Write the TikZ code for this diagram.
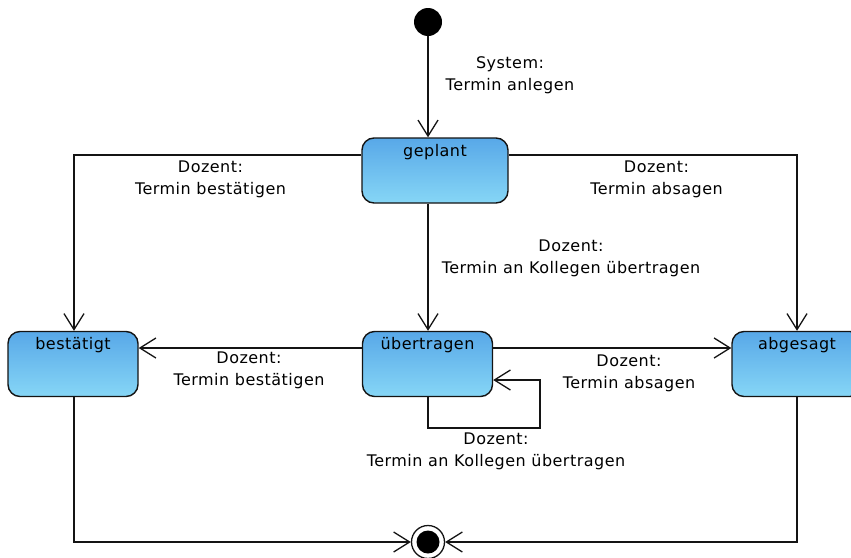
\documentclass[tikz,border=0pt]{standalone}
\usepackage{fontspec}
\setmainfont{DejaVu Sans}[LetterSpace=3]
\usetikzlibrary{arrows.meta}

\definecolor{statetop}{RGB}{88,168,232}
\definecolor{statebot}{RGB}{134,214,246}
\definecolor{edgeink}{RGB}{20,20,20}

\tikzset{
  state/.style={draw=edgeink, line width=1.4pt, rounded corners=12pt,
    top color=statetop, bottom color=statebot,
    minimum width=130pt, inner xsep=2pt, inner ysep=5pt,
    text height=13pt, text depth=42pt, anchor=center},
  tr/.style={draw=edgeink, line width=1.3pt,
    -{Straight Barb[length=16pt,width=20pt,line width=1.3pt]}},
  lbl/.style={align=center, inner sep=0pt},
  every node/.style={font=\fontsize{16pt}{22.5pt}\selectfont}
}

\begin{document}
\begin{tikzpicture}[x=1pt, y=-1pt]
  \useasboundingbox (0,0) rectangle (851,557);

  % start and end points
  \node[circle, fill=black, minimum size=28pt, inner sep=0pt] (init) at (428,22) {};
  \node[circle, draw=edgeink, fill=white, line width=1.3pt, minimum size=33pt, inner sep=0pt] (final) at (428,542) {};
  \fill[black] (final.center) circle (11.5pt);

  % states
  \node[state, minimum width=146pt] (geplant) at (435,170.5) {geplant};
  \node[state] (uebertragen) at (427.5,364) {übertragen};
  \node[state] (bestaetigt) at (73,364) {bestätigt};
  \node[state] (abgesagt) at (797,364) {abgesagt};

  % transitions
  \draw[tr] (init.south) -- (init.south |- geplant.north);
  \draw[tr] ([yshift=15.5pt]geplant.west) -| ([xshift=1pt]bestaetigt.north);
  \draw[tr] ([yshift=15.5pt]geplant.east) -| (abgesagt.north);
  \draw[tr] (init.south |- geplant.south) -- (init.south |- uebertragen.north);
  \draw[tr] ([yshift=16pt]uebertragen.west) -- ([yshift=16pt]bestaetigt.east);
  \draw[tr] ([yshift=16pt]uebertragen.east) -- ([yshift=16pt]abgesagt.west);
  \coordinate (loopc) at (540,428);
  \draw[tr] (init.south |- uebertragen.south) |- (loopc) |- ([yshift=-16pt]uebertragen.east);
  \draw[tr] ([xshift=1pt]bestaetigt.south) |- (final.west);
  \draw[tr] (abgesagt.south) |- (final.east);

  % transition labels
  \node[lbl] (l1) at (510,75) {System:\\Termin anlegen};
  \node[lbl] (l2) at (210.5,179.5) {Dozent:\\Termin bestätigen};
  \node[lbl] (l3) at (656.5,179.5) {Dozent:\\Termin absagen};
  \node[lbl] (l4) at (571,258.5) {Dozent:\\Termin an Kollegen übertragen};
  \node[lbl] (l5) at (249,370.5) {Dozent:\\Termin bestätigen};
  \node[lbl] (l6) at (629,373.5) {Dozent:\\Termin absagen};
  \node[lbl] (l7) at (496,451.5) {Dozent:\\Termin an Kollegen übertragen};
\end{tikzpicture}
\end{document}
